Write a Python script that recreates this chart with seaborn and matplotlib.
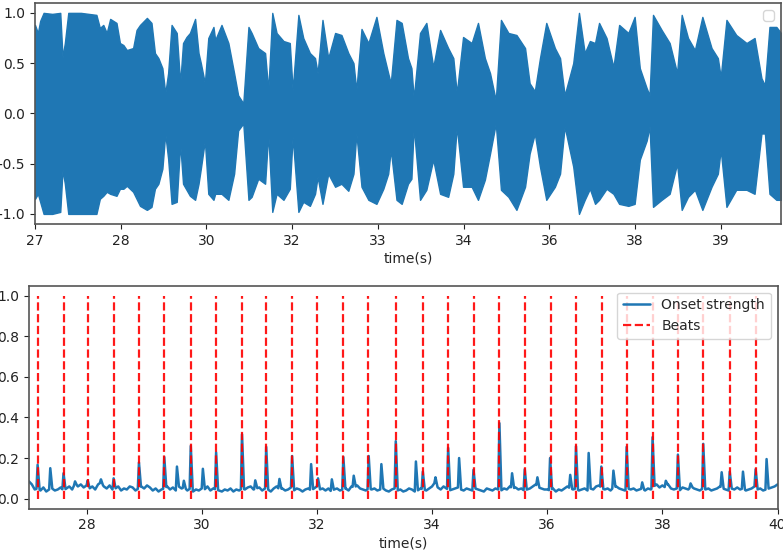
import numpy as np
import pandas as pd
import matplotlib
matplotlib.use("Agg")
import matplotlib.pyplot as plt
import seaborn as sns

# ---------------- data ----------------
# waveform envelope (time in s, upper and lower amplitude)
wave_t = [27.00, 27.05, 27.09, 27.15, 27.30, 27.44, 27.48, 27.52, 27.58, 27.80,
          28.07, 28.13, 28.19, 28.25, 28.31, 28.42, 28.48, 28.54, 28.60, 28.71,
          28.77, 28.83, 28.95, 29.03, 29.09, 29.15, 29.22, 29.27, 29.32, 29.38,
          29.47, 29.53, 29.58, 29.64, 29.70, 29.79, 29.85, 29.89, 29.96, 30.02,
          30.11, 30.14, 30.25, 30.37, 30.47, 30.54, 30.63, 30.72, 30.775, 30.89,
          31.01, 31.065, 31.135, 31.21, 31.33, 31.44, 31.49, 31.59, 31.675, 31.79,
          31.88, 31.925, 32.01, 32.11, 32.23, 32.34, 32.46, 32.55, 32.60, 32.69,
          32.81, 32.95, 33.07, 33.155, 33.20, 33.30, 33.39, 33.50, 33.56, 33.60,
          33.71, 33.82, 33.94, 34.06, 34.20, 34.29, 34.35, 34.46, 34.61, 34.72,
          34.84, 34.93, 35.03, 35.12, 35.25, 35.39, 35.54, 35.62, 35.71, 35.80,
          35.91, 36.06, 36.15, 36.23, 36.38, 36.48, 36.58, 36.67, 36.76, 36.83,
          36.96, 37.08, 37.18, 37.34, 37.45, 37.54, 37.66, 37.71, 37.77, 37.92,
          38.06, 38.19, 38.27, 38.38, 38.50, 38.63, 38.79, 38.90, 38.95, 39.05,
          39.22, 39.40, 39.54, 39.66, 39.72, 39.80, 39.92, 40.00]
wave_up = [0.88, 0.80, 0.92, 1.00, 0.99, 1.00, 0.56, 0.70, 1.00, 1.00,
           0.98, 0.85, 0.88, 0.80, 0.94, 0.90, 0.70, 0.68, 0.63, 0.65,
           0.83, 0.88, 0.95, 0.90, 0.60, 0.55, 0.45, 0.20, 0.40, 0.88,
           0.80, 0.30, 0.70, 0.76, 0.80, 0.94, 0.60, 0.50, 0.30, 0.75,
           0.86, 0.73, 0.88, 0.70, 0.40, 0.18, 0.10, 0.86, 0.80, 0.65,
           0.60, 0.23, 1.00, 0.80, 0.72, 0.70, 0.23, 0.98, 0.75, 0.60,
           0.55, 0.40, 0.93, 0.55, 0.80, 0.78, 0.60, 0.50, 0.23, 0.84,
           0.70, 0.96, 0.60, 0.40, 0.30, 0.93, 0.90, 0.55, 0.45, 0.15,
           0.80, 0.90, 0.46, 0.83, 0.65, 0.55, 0.20, 0.76, 0.70, 0.90,
           0.55, 0.40, 0.13, 0.93, 0.80, 0.78, 0.65, 0.30, 0.22, 0.55,
           0.90, 0.65, 0.55, 0.18, 0.50, 1.00, 0.60, 0.72, 0.70, 0.90,
           0.75, 0.46, 0.88, 0.80, 0.96, 0.45, 0.25, 0.18, 0.98, 0.83,
           0.70, 0.40, 0.98, 0.75, 0.63, 0.96, 0.65, 0.55, 0.36, 0.93,
           0.78, 0.70, 0.75, 0.35, 0.28, 0.86, 0.86, 0.80]
wave_low = [-0.85, -0.80, -0.88, -1.00, -1.00, -0.98, -0.56, -0.70, -1.00, -1.00,
            -1.00, -0.85, -0.82, -0.78, -0.80, -0.82, -0.75, -0.75, -0.72, -0.78,
            -0.85, -0.92, -0.96, -0.93, -0.75, -0.70, -0.55, -0.20, -0.45, -0.90,
            -0.88, -0.30, -0.70, -0.76, -0.82, -0.86, -0.70, -0.55, -0.27, -0.80,
            -0.86, -0.80, -0.80, -0.86, -0.60, -0.17, -0.10, -0.86, -0.83, -0.65,
            -0.70, -0.20, -0.98, -0.80, -0.86, -0.75, -0.23, -0.98, -0.88, -0.92,
            -0.80, -0.63, -0.90, -0.60, -0.73, -0.70, -0.77, -0.60, -0.20, -0.73,
            -0.86, -0.90, -0.75, -0.60, -0.36, -0.86, -0.90, -0.70, -0.65, -0.13,
            -0.86, -0.76, -0.46, -0.80, -0.83, -0.60, -0.13, -0.73, -0.73, -0.86,
            -0.66, -0.40, -0.10, -0.76, -0.83, -0.96, -0.73, -0.40, -0.20, -0.53,
            -0.86, -0.73, -0.60, -0.13, -0.53, -1.00, -0.86, -0.75, -0.90, -0.86,
            -0.75, -0.80, -0.90, -0.92, -0.90, -0.46, -0.27, -0.13, -0.93, -0.86,
            -0.80, -0.50, -0.96, -0.83, -0.76, -0.96, -0.73, -0.60, -0.36, -0.93,
            -0.76, -0.76, -0.80, -0.20, -0.20, -0.80, -0.86, -0.86]
top_tick_labels = ["27", "28", "30", "32", "33", "34", "36", "38", "39"]

# onset strength: baseline every 0.05 s from 27.0 to 40.0, plus peaks
base_t0, base_dt = 27.0, 0.05
onset_base = [
    0.085, 0.07, 0.045, 0.05, 0.04, 0.055, 0.035, 0.045, 0.05, 0.04, 0.045, 0.055, 0.04, 0.05, 0.06, 0.045, 0.075, 0.06, 0.07, 0.055,
    0.065, 0.05, 0.06, 0.045, 0.07, 0.08, 0.06, 0.05, 0.065, 0.045, 0.05, 0.06, 0.04, 0.05, 0.045, 0.06, 0.055, 0.04, 0.05, 0.06,
    0.05, 0.065, 0.055, 0.04, 0.05, 0.035, 0.045, 0.05, 0.06, 0.045, 0.055, 0.04, 0.06, 0.05, 0.055, 0.04, 0.05, 0.035, 0.045, 0.04,
    0.05, 0.045, 0.06, 0.04, 0.05, 0.045, 0.04, 0.035, 0.045, 0.04, 0.05, 0.035, 0.045, 0.04, 0.05, 0.045, 0.055, 0.06, 0.045, 0.05,
    0.055, 0.04, 0.05, 0.045, 0.035, 0.05, 0.06, 0.045, 0.05, 0.04, 0.045, 0.055, 0.04, 0.05, 0.045, 0.035, 0.045, 0.05, 0.04, 0.05,
    0.06, 0.045, 0.05, 0.04, 0.05, 0.035, 0.045, 0.05, 0.04, 0.045, 0.05, 0.04, 0.06, 0.055, 0.065, 0.05, 0.045, 0.04, 0.05, 0.045,
    0.05, 0.04, 0.045, 0.05, 0.04, 0.035, 0.045, 0.05, 0.04, 0.045, 0.035, 0.04, 0.05, 0.045, 0.035, 0.04, 0.05, 0.045, 0.04, 0.05,
    0.06, 0.08, 0.055, 0.045, 0.06, 0.05, 0.04, 0.045, 0.05, 0.055, 0.045, 0.04, 0.05, 0.045, 0.04, 0.05, 0.045, 0.04, 0.035, 0.05,
    0.045, 0.04, 0.05, 0.045, 0.04, 0.05, 0.045, 0.06, 0.05, 0.055, 0.045, 0.05, 0.04, 0.045, 0.05, 0.06, 0.07, 0.055, 0.05, 0.045,
    0.045, 0.04, 0.05, 0.035, 0.045, 0.04, 0.05, 0.06, 0.05, 0.045, 0.05, 0.04, 0.045, 0.05, 0.04, 0.05, 0.045, 0.06, 0.065, 0.05,
    0.045, 0.05, 0.04, 0.055, 0.06, 0.05, 0.045, 0.04, 0.05, 0.045, 0.05, 0.04, 0.045, 0.05, 0.04, 0.05, 0.045, 0.06, 0.07, 0.055,
    0.065, 0.055, 0.07, 0.05, 0.045, 0.05, 0.04, 0.055, 0.05, 0.045, 0.06, 0.05, 0.045, 0.04, 0.05, 0.045, 0.05, 0.04, 0.045, 0.05,
    0.06, 0.05, 0.045, 0.04, 0.05, 0.045, 0.055, 0.045, 0.05, 0.04, 0.045, 0.05, 0.06, 0.045, 0.05, 0.04, 0.045, 0.05, 0.055, 0.06,
    0.07]
peak_t = [27.15, 27.37, 27.60, 27.80, 28.02, 28.25, 28.47, 28.91, 29.35, 29.57,
          29.69, 29.81, 30.02, 30.25, 30.70, 30.93, 31.12, 31.35, 31.57, 31.90,
          32.02, 32.26, 32.46, 32.64, 32.90, 33.12, 33.37, 33.72, 33.84, 34.06,
          34.28, 34.47, 34.72, 35.17, 35.39, 35.61, 35.83, 36.05, 36.40, 36.50,
          36.72, 36.94, 37.15, 37.38, 37.65, 37.83, 38.06, 38.27, 38.49, 38.71,
          39.03, 39.17, 39.40, 39.62, 39.81]
peak_h = [0.167, 0.15, 0.125, 0.085, 0.09, 0.095, 0.10, 0.178, 0.205, 0.158,
          0.088, 0.26, 0.147, 0.228, 0.317, 0.09, 0.255, 0.097, 0.21, 0.17,
          0.10, 0.095, 0.205, 0.113, 0.21, 0.17, 0.283, 0.183, 0.133, 0.105,
          0.25, 0.20, 0.142, 0.372, 0.125, 0.145, 0.105, 0.20, 0.117, 0.258,
          0.225, 0.158, 0.138, 0.255, 0.08, 0.303, 0.088, 0.217, 0.075, 0.27,
          0.13, 0.133, 0.133, 0.145, 0.195]
beats = [27.15, 27.60, 28.02, 28.48, 28.91, 29.35, 29.81, 30.24, 30.70, 31.12,
         31.56, 32.01, 32.45, 32.89, 33.37, 33.84, 34.28, 34.73, 35.17, 35.62,
         36.06, 36.50, 36.95, 37.38, 37.83, 38.27, 38.71, 39.18, 39.62]

# ---------------- build onset curve from baseline + peaks ----------------
base_times = base_t0 + base_dt * np.arange(len(onset_base))
pre, post = 0.02, 0.035
pts = {}
for t, v in zip(base_times, onset_base):
    if not any((t > p - pre - 1e-9) and (t < p + post + 1e-9) for p in peak_t):
        pts[round(float(t), 4)] = v
base_interp = lambda x: float(np.interp(x, base_times, onset_base))
for p, h in zip(peak_t, peak_h):
    pts[round(p - pre, 4)] = base_interp(p - pre)
    pts[round(p, 4)] = h
    pts[round(p + post, 4)] = base_interp(p + post)
onset_df = pd.DataFrame(sorted(pts.items()), columns=["time", "strength"])

# ---------------- plotting ----------------
sns.set_style("ticks")
plt.rcParams.update({
    "font.family": ["DejaVu Sans"],
    "font.size": 10,
    "axes.edgecolor": "#555555",
    "axes.linewidth": 1.2,
    "xtick.color": "#222222",
    "ytick.color": "#222222",
    "xtick.direction": "out",
    "ytick.direction": "out",
})

fig = plt.figure(figsize=(7.83, 5.53), dpi=100)
ax1 = fig.add_axes([0.0447, 0.595, 0.9527, 0.3999])
ax2 = fig.add_axes([0.0370, 0.0800, 0.9560, 0.4035])

blue = "#1f77b4"
ax1.fill_between(wave_t, wave_low, wave_up, color=blue, linewidth=1.0,
                 edgecolor=blue)
ax1.set_xlim(27, 40)
ax1.set_ylim(-1.1, 1.1)
ax1.set_yticks([-1.0, -0.5, 0.0, 0.5, 1.0])
top_tick_pos = 27 + 1.494 * np.arange(len(top_tick_labels))
ax1.set_xticks(top_tick_pos)
ax1.set_xticklabels(top_tick_labels)
ax1.set_xlabel("time(s)", labelpad=3)
ax1.legend(handles=[], labels=[], loc="upper right")

sns.lineplot(data=onset_df, x="time", y="strength", ax=ax2, color=blue,
             linewidth=1.8, label="Onset strength", estimator=None)
ax2.vlines(beats, 0, 1, color="red", linestyles="--", linewidth=1.6,
           alpha=0.9, label="Beats")
ax2.set_xlim(27, 40)
ax2.set_ylim(-0.05, 1.05)
ax2.set_xticks([28, 30, 32, 34, 36, 38, 40])
ax2.set_yticks([0.0, 0.2, 0.4, 0.6, 0.8, 1.0])
ax2.set_xlabel("time(s)", labelpad=3)
ax2.set_ylabel("")
ax2.legend(loc="upper right")

fig.savefig("out.png", dpi=100)
